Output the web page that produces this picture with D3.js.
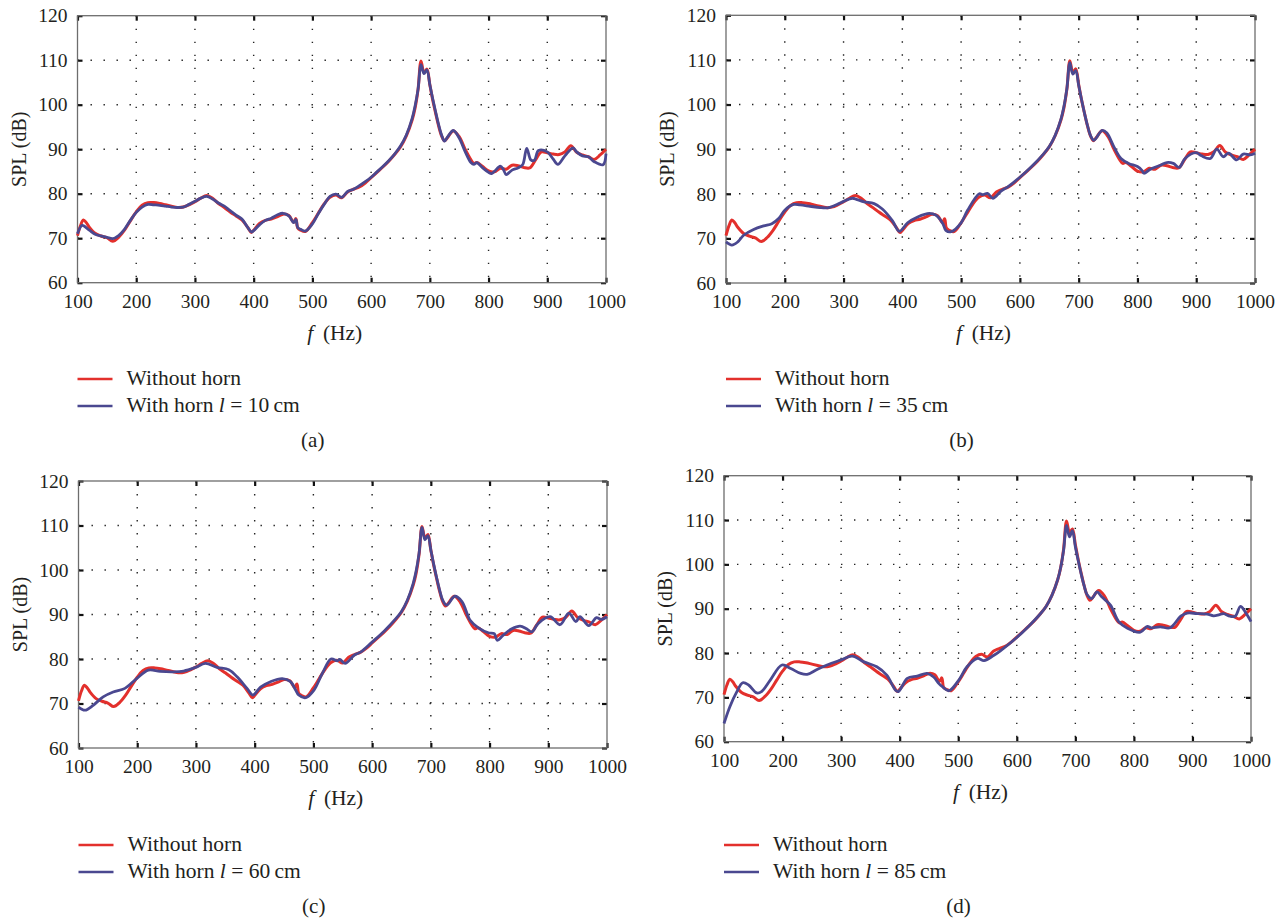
<!DOCTYPE html>
<html>
<head>
<meta charset="utf-8">
<script src="https://cdn.jsdelivr.net/npm/d3@7/dist/d3.min.js"></script>
<style>
	body { margin: 0; background: #fff; }
	text { font-family: 'Liberation Serif', 'DejaVu Serif', serif; fill: #231f20; }
</style>
</head>
<body>
<svg id="chart" width="1287" height="920"></svg>
<script>
// tick values of both axes
let xTicks = [100, 200, 300, 400, 500, 600, 700, 800, 900, 1000];
let yTicks = [60, 70, 80, 90, 100, 110, 120];

// the measured curve without horn (same in every panel), [f (Hz), SPL (dB)]
let withoutHorn = [[100,70.6],[105,72.8],[110,74.1],[115,73.5],[120,72.5],[130,71.1],[140,70.5],[150,70.1],[160,69.3],[170,70.2],[180,71.8],[190,73.9],[200,75.9],[210,77.4],[220,78.0],[230,78.0],[240,77.8],[250,77.5],[260,77.2],[270,76.9],[280,77.0],[290,77.5],[300,78.2],[310,79.0],[320,79.6],[330,79.0],[340,77.8],[350,76.9],[360,75.9],[370,75.0],[380,74.1],[390,72.4],[396,71.3],[400,71.8],[410,73.3],[420,74.0],[430,74.3],[440,74.8],[450,75.4],[460,75.1],[468,73.6],[472,74.4],[475,72.3],[480,71.8],[488,71.5],[500,73.5],[510,75.6],[520,77.7],[530,79.2],[540,79.7],[550,79.1],[560,80.4],[570,81.0],[580,81.5],[590,82.4],[600,83.6],[610,84.8],[620,86.0],[630,87.3],[640,88.8],[650,90.5],[660,93.0],[670,96.6],[675,99.3],[680,103.5],[685,109.8],[690,107.2],[695,108.0],[700,104.5],[705,101.0],[710,98.0],[715,95.2],[720,93.0],[725,91.9],[730,92.6],[740,94.1],[750,92.8],[760,90.0],[770,87.6],[775,86.8],[780,87.0],[790,86.1],[800,85.1],[810,84.9],[820,85.7],[830,85.5],[840,86.4],[850,86.3],[860,85.9],[870,85.8],[880,87.6],[890,89.4],[900,89.2],[910,88.9],[920,88.8],[930,89.4],[940,90.8],[950,89.3],[960,88.7],[970,88.3],[980,87.7],[990,88.7],[1000,90.0]];

// curves with horn for each horn length
let horn10 = [[100,71.0],[108,72.9],[120,71.8],[130,70.9],[140,70.5],[150,70.2],[160,69.9],[170,70.6],[180,72.0],[190,74.0],[200,75.8],[210,77.0],[220,77.6],[230,77.5],[240,77.4],[250,77.2],[260,77.0],[270,76.9],[280,77.0],[290,77.6],[300,78.3],[310,79.0],[320,79.4],[330,78.8],[340,77.9],[350,77.2],[360,76.2],[370,75.2],[380,74.3],[390,72.4],[396,71.4],[400,71.7],[410,73.0],[420,74.0],[430,74.5],[440,75.2],[450,75.6],[460,75.0],[468,73.5],[472,74.2],[475,72.4],[480,72.0],[488,71.6],[500,73.2],[510,75.5],[520,77.6],[530,79.4],[540,79.9],[550,79.2],[560,80.5],[570,81.0],[580,81.8],[590,82.7],[600,83.7],[610,84.9],[620,86.1],[630,87.4],[640,88.9],[650,90.7],[660,93.2],[670,97.0],[675,99.8],[680,103.5],[685,109.0],[690,107.0],[695,107.8],[700,104.5],[705,101.3],[710,98.3],[715,95.5],[720,93.2],[725,91.8],[730,92.7],[740,94.2],[750,92.5],[760,89.5],[770,87.0],[775,86.6],[780,87.0],[790,85.8],[800,84.8],[805,84.5],[810,85.0],[820,86.2],[825,85.5],[830,84.3],[840,85.3],[850,85.8],[858,86.5],[865,90.2],[872,87.6],[878,87.5],[885,89.7],[900,89.4],[910,87.8],[918,86.6],[930,88.5],[944,90.3],[950,89.4],[960,88.5],[970,88.3],[980,87.2],[995,86.5],[1000,89.0]];
let horn35 = [[100,69.2],[110,68.5],[120,69.2],[130,70.7],[147,72.0],[164,72.8],[178,73.3],[190,74.5],[200,76.3],[215,77.6],[226,77.5],[243,77.2],[260,76.9],[275,76.9],[289,77.6],[300,78.3],[315,79.0],[323,78.7],[335,78.2],[352,77.8],[366,76.6],[383,74.0],[395,71.6],[409,73.5],[426,74.8],[446,75.6],[457,75.2],[469,73.3],[474,71.8],[483,71.5],[500,73.5],[511,76.3],[531,80.0],[537,79.8],[545,80.1],[554,79.0],[568,80.6],[580,81.6],[600,83.7],[620,86.1],[640,88.9],[650,90.6],[660,93.1],[670,96.8],[675,99.6],[680,103.6],[685,109.4],[690,106.8],[695,107.6],[700,104.3],[705,101.0],[710,98.0],[715,95.3],[720,93.1],[726,92.0],[740,94.2],[748,93.6],[760,90.5],[772,87.9],[785,86.8],[800,86.1],[808,85.2],[811,84.6],[822,85.5],[839,86.4],[850,87.0],[861,86.8],[871,85.9],[881,87.9],[900,89.2],[909,88.5],[924,87.9],[935,90.0],[946,88.3],[955,89.1],[969,87.6],[980,88.9],[992,88.7],[1000,89.1]];
let horn60 = [[100,69.2],[111,68.5],[125,69.6],[142,71.5],[159,72.6],[179,73.4],[199,75.6],[219,77.5],[239,77.2],[262,77.1],[279,77.3],[299,78.1],[316,79.0],[336,78.1],[356,77.6],[370,76.0],[387,73.4],[397,71.9],[410,73.7],[427,74.9],[447,75.6],[461,74.9],[470,73.0],[475,71.9],[487,71.3],[501,73.0],[515,76.7],[530,80.0],[541,79.6],[545,79.9],[554,79.0],[570,80.9],[581,81.6],[600,83.8],[620,86.2],[640,89.0],[650,90.7],[660,93.2],[670,97.0],[675,99.8],[680,103.8],[685,109.6],[690,106.8],[695,107.7],[700,104.5],[705,101.2],[710,98.2],[715,95.5],[720,93.3],[727,92.1],[741,94.1],[753,92.9],[767,88.7],[781,87.0],[798,85.9],[808,85.7],[813,84.2],[823,85.3],[838,86.8],[852,87.4],[863,86.8],[872,86.1],[883,88.0],[903,89.5],[920,87.7],[935,90.3],[947,88.4],[954,89.5],[969,87.5],[982,89.3],[990,88.9],[1000,89.5]];
let horn85 = [[100,64.1],[110,67.9],[122,71.3],[132,73.3],[142,72.8],[156,71.0],[164,71.3],[179,73.9],[199,77.3],[214,76.5],[231,75.4],[242,75.2],[259,76.3],[276,77.3],[299,78.4],[319,79.3],[339,78.0],[361,76.9],[378,75.0],[393,71.6],[398,71.3],[413,74.3],[430,74.8],[447,75.4],[458,74.6],[467,73.1],[473,72.4],[484,71.5],[501,73.9],[515,76.9],[533,78.8],[544,78.3],[561,79.5],[572,80.5],[600,83.5],[620,86.0],[640,88.8],[650,90.5],[660,93.0],[670,96.6],[675,99.3],[680,103.2],[685,108.8],[690,106.2],[695,107.6],[700,104.0],[705,100.8],[710,97.8],[715,95.2],[720,93.2],[728,92.3],[737,93.8],[745,92.7],[760,90.8],[774,87.1],[789,85.6],[811,84.7],[823,86.0],[829,85.7],[845,85.9],[862,85.7],[880,88.3],[891,89.0],[908,88.9],[925,88.8],[936,88.4],[945,88.6],[953,88.9],[964,88.3],[973,88.3],[982,90.5],[990,89.3],[1000,87.1]];

let hornCurves = [horn10, horn35, horn60, horn85];
let hornLengths = [10, 35, 60, 85];
let panelNames = ['(a)', '(b)', '(c)', '(d)'];

let red = '#e3302c';
let blue = '#4a4890';

// plot rectangles of the four panels, legend rows and caption line per panel
let boxes = [
	{ left: 77.5, right: 606, top: 15.7, bottom: 282.7, legendY: 379, captionY: 447 },
	{ left: 726, right: 1255, top: 15.3, bottom: 283, legendY: 379, captionY: 447 },
	{ left: 78.5, right: 607, top: 481, bottom: 748, legendY: 845, captionY: 913 },
	{ left: 724, right: 1251, top: 475.7, bottom: 741.7, legendY: 845, captionY: 913 }
];

let svg = d3.select('#chart');

hornCurves.forEach((curve, i) => drawPanel(boxes[i], curve, hornLengths[i], panelNames[i]));

function drawPanel(box, hornData, len, name) {
	let g = svg.append('g');

	let xScale = d3.scaleLinear().domain([100, 1000]).range([box.left, box.right]);
	let yScale = d3.scaleLinear().domain([60, 120]).range([box.bottom, box.top]);

	// dotted grid at inner ticks
	g.selectAll('.vgrid').data(xTicks.slice(1, -1)).enter().append('line')
		.attr('x1', (d) => xScale(d)).attr('x2', (d) => xScale(d))
		.attr('y1', box.top).attr('y2', box.bottom)
		.attr('stroke', '#222').attr('stroke-width', 1.4).attr('stroke-dasharray', '1.4,11.6');
	g.selectAll('.hgrid').data(yTicks.slice(1, -1)).enter().append('line')
		.attr('x1', box.left).attr('x2', box.right)
		.attr('y1', (d) => yScale(d)).attr('y2', (d) => yScale(d))
		.attr('stroke', '#222').attr('stroke-width', 1.4).attr('stroke-dasharray', '1.4,11.6');

	// axes, ticks pointing inward on all four sides
	let tickLen = 5;
	let fmt = d3.format('d');
	let xBottom = d3.axisBottom(xScale).tickValues(xTicks).tickSize(-tickLen).tickSizeOuter(0).tickPadding(11).tickFormat(fmt);
	let xTop = d3.axisTop(xScale).tickValues(xTicks).tickSize(-tickLen).tickSizeOuter(0).tickFormat('');
	let yLeft = d3.axisLeft(yScale).tickValues(yTicks).tickSize(-tickLen).tickSizeOuter(0).tickPadding(10).tickFormat(fmt);
	let yRight = d3.axisRight(yScale).tickValues(yTicks).tickSize(-tickLen).tickSizeOuter(0).tickFormat('');

	let axes = [
		g.append('g').attr('transform', 'translate(0,' + box.bottom + ')').call(xBottom),
		g.append('g').attr('transform', 'translate(0,' + box.top + ')').call(xTop),
		g.append('g').attr('transform', 'translate(' + box.left + ',0)').call(yLeft),
		g.append('g').attr('transform', 'translate(' + box.right + ',0)').call(yRight)
	];
	axes.forEach((a) => {
		a.attr('font-family', null).attr('font-size', null);
		a.select('.domain').remove();
		a.selectAll('.tick line').attr('stroke', '#111').attr('stroke-width', 2.2);
		a.selectAll('.tick text').style('font-size', '19.5px').attr('fill', '#231f20');
	});

	// frame
	g.append('rect')
		.attr('x', box.left).attr('y', box.top)
		.attr('width', box.right - box.left).attr('height', box.bottom - box.top)
		.attr('fill', 'none').attr('stroke', '#6d6d6d').attr('stroke-width', 1.3);

	// curves
	let line = d3.line().x((d) => xScale(d[0])).y((d) => yScale(d[1])).curve(d3.curveCatmullRom.alpha(0.5));
	let plot = g.append('g');
	plot.append('path').datum(withoutHorn).attr('d', line)
		.attr('fill', 'none').attr('stroke', red).attr('stroke-width', 3).attr('stroke-linejoin', 'round');
	plot.append('path').datum(hornData).attr('d', line)
		.attr('fill', 'none').attr('stroke', blue).attr('stroke-width', 2.8).attr('stroke-linejoin', 'round');

	let midX = (box.left + box.right) / 2;

	// axis titles
	let xt = g.append('text').attr('x', midX - 7).attr('y', box.bottom + 57)
		.style('text-anchor', 'middle').style('font-size', '21.5px');
	xt.append('tspan').style('font-style', 'italic').text('f');
	xt.append('tspan').text('\u2009 (Hz)');

	g.append('text')
		.attr('transform', 'translate(' + (box.left - 59) + ',' + (box.top + box.bottom) / 2 + ') rotate(-90)')
		.attr('dy', '0.35em')
		.style('text-anchor', 'middle').style('font-size', '20px').text('SPL (dB)');

	// legend
	let legend = [
		{ color: red, y: box.legendY, label: 'Without horn' },
		{ color: blue, y: box.legendY + 27, label: null }
	];
	legend.forEach((item) => {
		g.append('line').attr('x1', box.left).attr('x2', box.left + 35)
			.attr('y1', item.y).attr('y2', item.y)
			.attr('stroke', item.color).attr('stroke-width', 2.4);
		let t = g.append('text').attr('x', box.left + 49).attr('y', item.y + 6).style('font-size', '21.5px');
		if (item.label) {
			t.text(item.label);
		} else {
			t.append('tspan').text('With horn ');
			t.append('tspan').style('font-style', 'italic').text('l');
			t.append('tspan').text(' = ' + len + '\u2009cm');
		}
	});

	// panel letter
	g.append('text').attr('x', midX - 29).attr('y', box.captionY)
		.style('text-anchor', 'middle').style('font-size', '21px').text(name);
}
</script>
</body>
</html>
